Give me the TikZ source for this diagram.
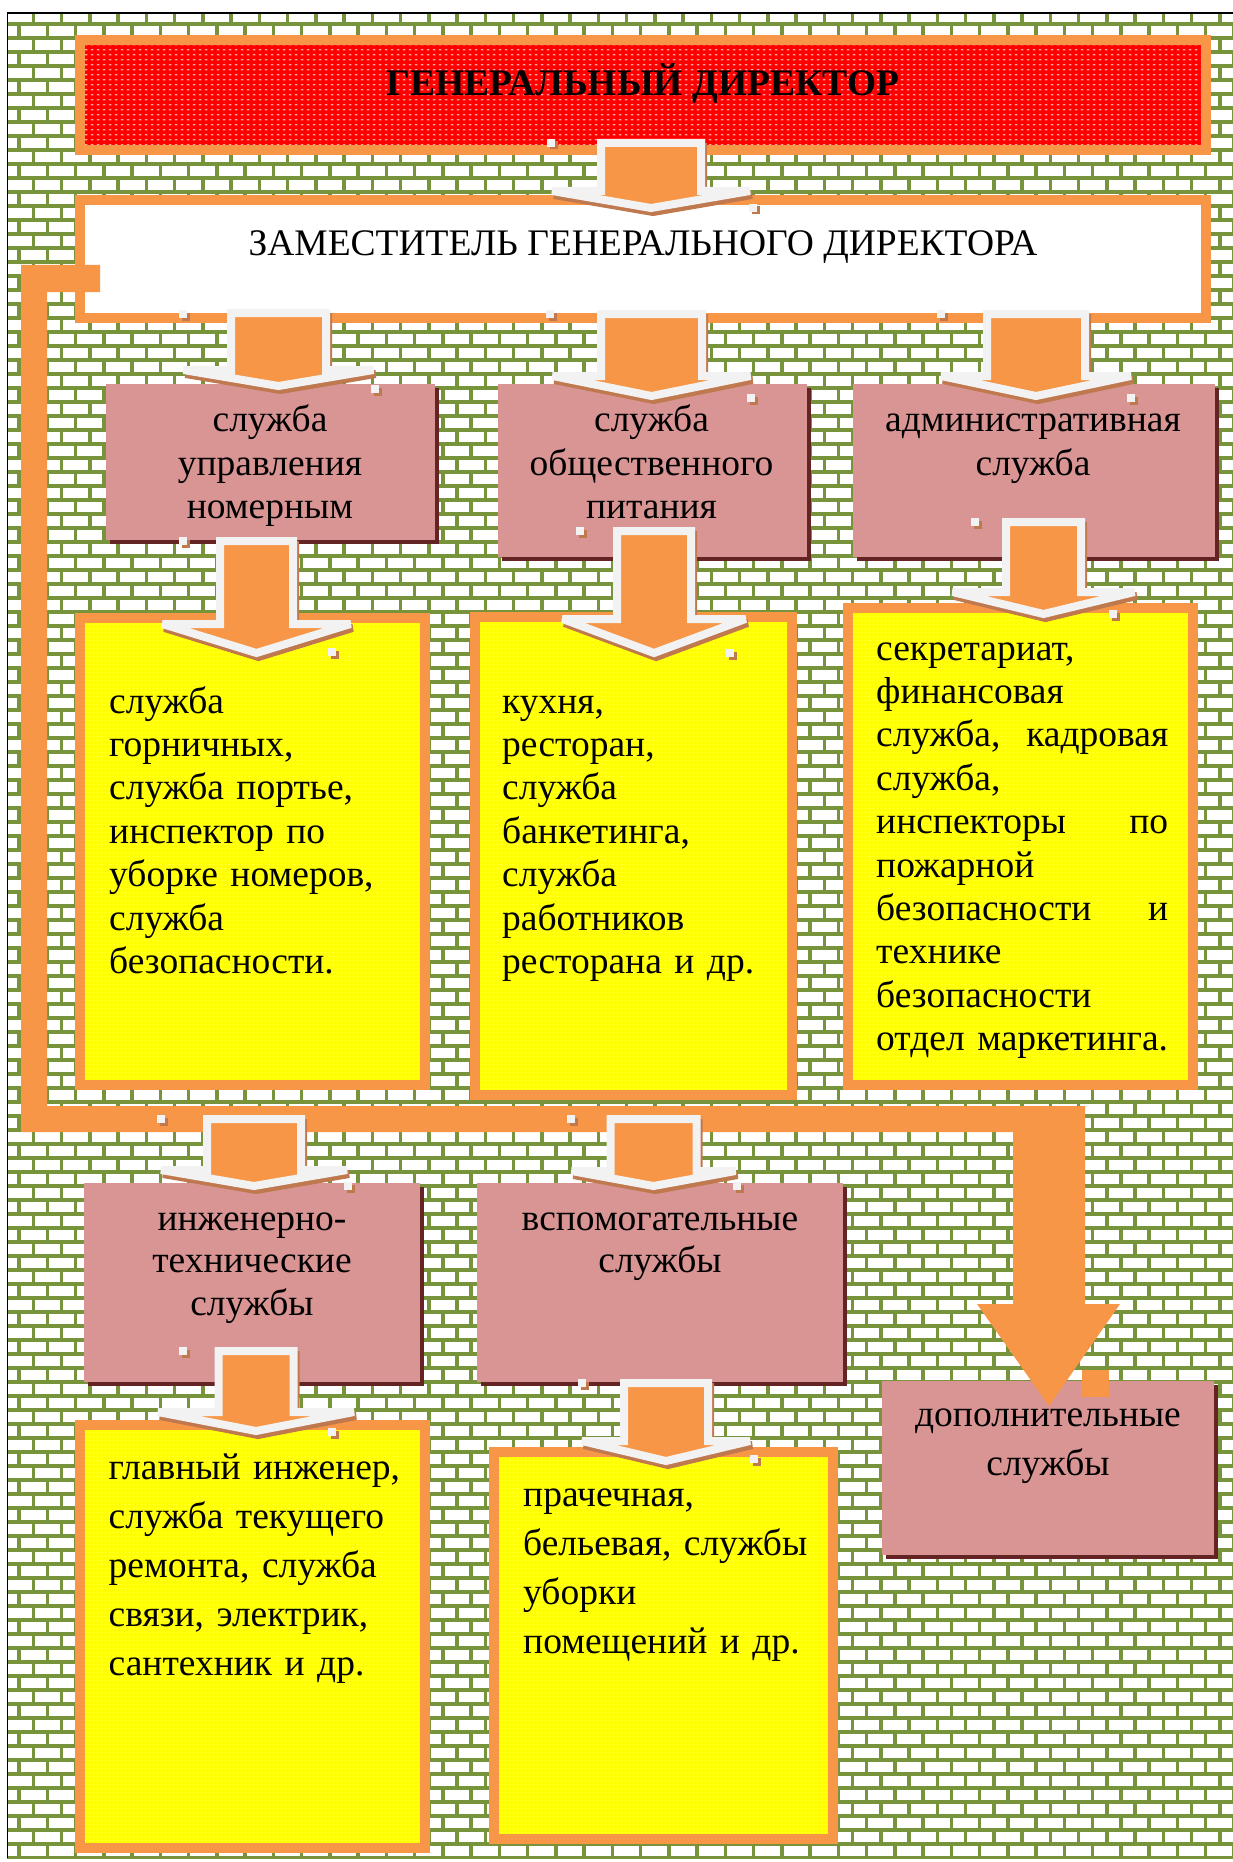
\documentclass[tikz,border=0pt]{standalone}
\usepackage{fontspec}
\setmainfont{Liberation Serif}
\usetikzlibrary{patterns,shadows}
\definecolor{orng}{HTML}{F79646}
\definecolor{mortar}{HTML}{77933C}
\definecolor{pnk}{HTML}{D99594}
\definecolor{pnkshadow}{HTML}{632423}
\definecolor{arrwhite}{HTML}{F2F2F2}
\definecolor{arrshadow}{RGB}{192,120,78}
\definecolor{ylw}{HTML}{FFFF00}
\definecolor{ydot}{RGB}{255,255,175}
\definecolor{rdot}{RGB}{255,170,170}
\pgfdeclarepatternformonly{ydots}{\pgfpointorigin}{\pgfpoint{4pt}{4pt}}{\pgfpoint{4pt}{4pt}}{%
  \pgfpathrectangle{\pgfpoint{1pt}{1pt}}{\pgfpoint{1.6pt}{1.6pt}}\pgfusepath{fill}}
\pgfdeclarepatternformonly{rdots}{\pgfpointorigin}{\pgfpoint{6pt}{5pt}}{\pgfpoint{6pt}{5pt}}{%
  \pgfpathrectangle{\pgfpoint{1pt}{2pt}}{\pgfpoint{3pt}{1.3pt}}\pgfusepath{fill}}
\newcommand\blockarrow[6]{%
  \filldraw[arrsh] ({#1-#2+2},{#3+4}) -- ({#1+#2+2},{#3+4}) -- ({#1+#2+2},{#4+4}) -- ({#1+#5+2},{#4+4}) -- ({#1+2},{#6+4}) -- ({#1-#5+2},{#4+4}) -- ({#1-#2+2},{#4+4}) -- cycle;
  \filldraw[arrbody] ({#1-#2},{#3}) -- ({#1+#2},{#3}) -- ({#1+#2},{#4}) -- ({#1+#5},{#4}) -- ({#1},{#6}) -- ({#1-#5},{#4}) -- ({#1-#2},{#4}) -- cycle;
}
\newcommand\hndl[2]{%
  \fill[arrshadow] ({#1+2.5},{#2+2.5}) rectangle ++(8,8);
  \fill[arrwhite] (#1,#2) rectangle ++(8,8);
}
\begin{document}
\begin{tikzpicture}[x=1pt,y=-1pt,
  arrsh/.style={fill=arrshadow, draw=arrshadow, line width=8pt, line join=miter, miter limit=2},
  arrbody/.style={fill=orng, draw=arrwhite, line width=8pt, line join=miter, miter limit=2},
  framebox/.style={draw=orng, line width=10pt, inner sep=0pt},
  ybox/.style={framebox, preaction={fill=ylw}, preaction={pattern=ydots, pattern color=ydot}},
  rbox/.style={framebox, preaction={fill=red}, preaction={pattern=rdots, pattern color=rdot}},
  wbox/.style={framebox, fill=white},
  pinkbox/.style={fill=pnk, inner sep=0pt, drop shadow={shadow xshift=4pt, shadow yshift=-4pt, fill=pnkshadow, opacity=1}},
  txt/.style={inner sep=0pt, text=black, font=\fontsize{37.5}{43.4}\selectfont},
  txtb/.style={inner sep=0pt, text=black, font=\fontsize{37.5}{42.5}\selectfont},
  txtc/.style={inner sep=0pt, text=black, font=\fontsize{37.5}{49}\selectfont},
]
\useasboundingbox (0,0) rectangle (1233,1862);
\fill[white] (0,0) rectangle (1233,1862);
% brick wall
\begin{scope}
\clip (7,13) rectangle (1233,1858);
\foreach \j in {0,...,132} {
  \pgfmathsetmacro\yy{24+14*\j}
  \pgfmathsetmacro\yc{17+14*\j}
  \pgfmathsetmacro\xs{ifthenelse(mod(\j,2)==0,3.3,-10.8)}
  \draw[mortar, line width=4pt] (0,\yy) -- (1240,\yy);
  \draw[mortar, line width=10.5pt, dash pattern=on 3.5pt off 24.75pt] (\xs,\yc) -- (1240,\yc);
}
\end{scope}
\draw[black, line width=1.4pt] (7.7,1858) -- (7.7,13) -- (1234,13);

% boxes
\node[rbox, minimum width=1126pt, minimum height=110pt] (gd) at (643,95) {};
\node[wbox, minimum width=1126pt, minimum height=118pt] (zam) at (643,259) {};
\node[pinkbox, minimum width=329pt, minimum height=156pt] (p1) at (270.5,462) {};
\node[pinkbox, minimum width=309pt, minimum height=173pt] (p2) at (652.5,470.5) {};
\node[pinkbox, minimum width=362pt, minimum height=173pt] (p3) at (1034,470.5) {};
\node[ybox, minimum width=345pt, minimum height=467pt] (y1) at (252.5,851.5) {};
\node[ybox, minimum width=317pt, minimum height=478pt] (y2) at (633.5,856) {};
\node[ybox, minimum width=345pt, minimum height=477pt] (y3) at (1020.5,846.5) {};
\node[pinkbox, minimum width=336pt, minimum height=199pt] (p4) at (252,1282.5) {};
\node[pinkbox, minimum width=366pt, minimum height=199pt] (p5) at (660,1282.5) {};
\node[pinkbox, minimum width=332pt, minimum height=174pt] (p6) at (1048,1468) {};
\node[ybox, minimum width=345pt, minimum height=423pt] (y4) at (252.5,1636.5) {};
\node[ybox, minimum width=339pt, minimum height=387pt] (y5) at (663.5,1645.5) {};

% orange connector from deputy to the lower services
\fill[orng] (21,265) -- (100,265) -- (100,292) -- (47,292) -- (47,1106) -- (1085,1106)
  -- (1085,1304) -- (1120,1304) -- (1049,1406) -- (977,1304) -- (1013,1304) -- (1013,1132)
  -- (21,1132) -- cycle;
\fill[orng] (1082,1370) rectangle (1109,1397);

% block arrows
\blockarrow{651}{50}{143}{191}{99}{208}
\blockarrow{278.5}{47.5}{313}{370}{95}{386}
\blockarrow{651.5}{50.5}{314}{376}{99}{396}
\blockarrow{1036}{49}{314}{376}{95}{396}
\blockarrow{256.5}{36.5}{541}{624}{94}{653}
\blockarrow{654}{37}{531}{619}{91.5}{653}
\blockarrow{1043.5}{37.5}{522}{592}{91}{614}
\blockarrow{254}{47}{1119}{1170}{93}{1186}
\blockarrow{653.5}{43}{1119}{1171}{82}{1186}
\blockarrow{256}{37.5}{1351}{1412}{98}{1431}
\blockarrow{666}{42}{1383}{1441}{84}{1461}

% handles
\hndl{547}{139}\hndl{749}{204}\hndl{179}{310}\hndl{546}{310}\hndl{937}{310}
\hndl{371}{385}\hndl{747}{394}\hndl{1127}{394}\hndl{179}{537}\hndl{576}{527}
\hndl{971}{518}\hndl{328}{648}\hndl{726}{649}\hndl{1109}{610}\hndl{157}{1115}
\hndl{567}{1115}\hndl{344}{1182}\hndl{733}{1182}\hndl{179}{1347}\hndl{328}{1428}
\hndl{578}{1379}\hndl{750}{1455}

% texts
\node[txt, anchor=base] (tgd) at (643,96) {\bfseries ГЕНЕРАЛЬНЫЙ ДИРЕКТОР};
\node[txt, anchor=base] (tzam) at (643,255) {ЗАМЕСТИТЕЛЬ ГЕНЕРАЛЬНОГО ДИРЕКТОРА};
\node[txt, text width=320pt, align=center, anchor=base] (tp1) at (270,431.7) {служба\\ управления\\ номерным};
\node[txt, text width=300pt, align=center, anchor=base] (tp2) at (651.5,431.7) {служба\\ общественного\\ питания};
\node[txt, text width=350pt, align=center, anchor=base] (tp3) at (1033,431.7) {административная\\ служба};
\node[txt, text width=310pt, align=left, anchor=base west] (ty1) at (109,713) {служба\\ горничных,\\ служба портье,\\ инспектор по\\ уборке номеров,\\ служба\\ безопасности.};
\node[txt, text width=280pt, align=left, anchor=base west] (ty2) at (502,713) {кухня,\\ ресторан,\\ служба\\ банкетинга,\\ служба\\ работников\\ ресторана и др.};
\node[txt, text width=292pt, align=left, anchor=base west] (ty3) at (876,660) {секретариат,\\ финансовая\\ служба,\hfill кадровая\\ служба,\\ инспекторы\hfill по\\ пожарной\\ безопасности\hfill и\\ технике\\ безопасности\\ \mbox{отдел маркетинга.}};
\node[txtb, text width=320pt, align=center, anchor=base] (tp4) at (252,1230) {инженерно-\\ технические\\ службы};
\node[txtb, text width=350pt, align=center, anchor=base] (tp5) at (660,1230) {вспомогательные\\ службы};
\node[txtc, text width=320pt, align=center, anchor=base] (tp6) at (1048,1426.7) {дополнительные\\ службы};
\node[txtc, text width=320pt, align=left, anchor=base west] (ty4) at (108.5,1479) {главный инженер,\\ служба текущего\\ ремонта, служба\\ связи, электрик,\\ сантехник и др.};
\node[txtc, text width=310pt, align=left, anchor=base west] (ty5) at (523,1506.7) {прачечная,\\ бельевая, службы\\ уборки\\ помещений и др.};
\end{tikzpicture}
\end{document}
